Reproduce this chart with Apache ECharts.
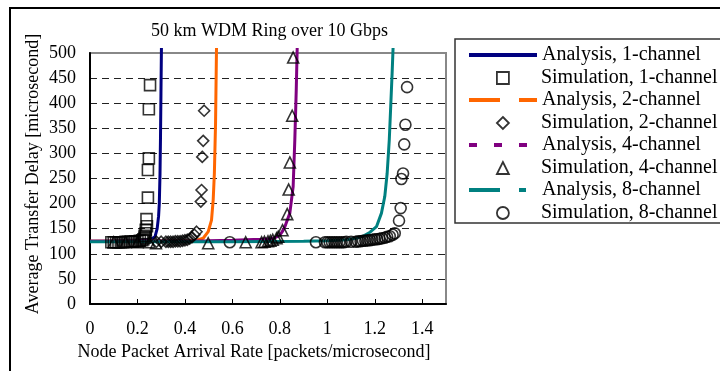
<!DOCTYPE html>
<html>
<head>
<meta charset="utf-8">
<script src="https://cdn.jsdelivr.net/npm/echarts@6/dist/echarts.min.js"></script>
<style>
  html, body { margin: 0; padding: 0; background: #fff; }
  #chart { width: 720px; height: 371px; }
</style>
</head>
<body>
<div id="chart"></div>
<script>
// analysis curves
const ana1X = [0, 0.1, 0.2, 0.24, 0.26, 0.274, 0.283, 0.289, 0.292, 0.295, 0.297, 0.299, 0.301];
const ana1Y = [125, 125, 126, 128, 130, 134, 150, 175, 200, 260, 330, 420, 510];
const ana2X = [0, 0.3, 0.42, 0.45, 0.477, 0.498, 0.512, 0.519, 0.524, 0.529, 0.533];
const ana2Y = [125, 125, 126, 127, 131, 144, 167, 207, 260, 360, 510];
const ana4X = [0, 0.5, 0.6, 0.66, 0.72, 0.76, 0.78, 0.8, 0.81, 0.821, 0.842, 0.856, 0.863, 0.869, 0.873];
const ana4Y = [125, 126, 127, 128, 129, 130, 132, 137, 144, 154, 181, 234, 327, 426, 510];
const ana8X = [0, 0.6, 0.9, 1.0, 1.08, 1.12, 1.15, 1.18, 1.207, 1.228, 1.242, 1.252, 1.261, 1.267, 1.273, 1.277];
const ana8Y = [124, 124, 125, 126, 128, 131, 135, 143, 154, 181, 214, 260, 327, 393, 460, 510];

// simulation points
const sim1X = [0.09, 0.1, 0.11, 0.12, 0.13, 0.14, 0.15, 0.16, 0.17, 0.18, 0.19, 0.2, 0.21, 0.22, 0.225, 0.23, 0.23, 0.235, 0.235, 0.24, 0.238, 0.244, 0.244, 0.248, 0.248, 0.253];
const sim1Y = [123, 123, 123, 123, 123, 123, 124, 124, 124, 124, 125, 125, 126, 127, 129, 132, 136, 141, 148, 155, 169, 212, 267, 290, 388, 436];
const sim2X = [0.28, 0.3, 0.32, 0.33, 0.34, 0.35, 0.36, 0.37, 0.38, 0.39, 0.4, 0.41, 0.42, 0.43, 0.44, 0.449, 0.467, 0.47, 0.473, 0.477, 0.481];
const sim2Y = [124, 124, 124, 124, 124, 124, 125, 125, 125, 126, 127, 128, 130, 133, 138, 144, 204, 227, 293, 325, 385];
const sim4X = [0.1, 0.15, 0.2, 0.25, 0.278, 0.498, 0.656, 0.723, 0.735, 0.75, 0.76, 0.77, 0.786, 0.793, 0.811, 0.831, 0.837, 0.842, 0.852, 0.856];
const sim4Y = [123, 123, 123, 123, 121, 121, 123, 123, 124, 125, 126, 128, 131, 134, 147, 179, 228, 282, 375, 491];
const sim8X = [0.589, 0.952, 0.99, 1.0, 1.01, 1.02, 1.03, 1.04, 1.05, 1.06, 1.07, 1.08, 1.1, 1.12, 1.13, 1.14, 1.15, 1.16, 1.17, 1.18, 1.19, 1.2, 1.21, 1.22, 1.23, 1.242, 1.252, 1.263, 1.275, 1.284, 1.302, 1.309, 1.312, 1.319, 1.324, 1.329, 1.336];
const sim8Y = [123, 123, 123, 123, 123, 123, 123, 123, 123, 123, 123, 124, 124, 124, 125, 125, 126, 126, 127, 127, 128, 129, 129, 130, 131, 132, 134, 135, 138, 141, 166, 191, 249, 260, 318, 357, 432];

const xTicks = [0, 0.2, 0.4, 0.6, 0.8, 1, 1.2, 1.4];

const zip = (xs, ys) => xs.map((x, i) => [x, ys[i]]);
const serif = 'Liberation Serif';

const lineSeries = (name, xs, ys, color) => ({
  name, type: 'line', data: zip(xs, ys), symbol: 'none', showSymbol: false,
  clip: false, silent: true, z: 2,
  lineStyle: { color, width: 3 }, itemStyle: { color }
});
const simSeries = (name, xs, ys, symbol) => ({
  name, type: 'scatter', data: zip(xs, ys), symbol, symbolSize: 11, silent: true, z: 3,
  itemStyle: { color: 'rgba(0,0,0,0)', borderColor: '#000', borderWidth: 1.6 }
});
// legend entry for an analysis curve: line only, hide the symbol
const anaLegend = (name, type) => ({
  name, lineStyle: { width: 4, type }, itemStyle: { opacity: 0 }
});

const chart = echarts.init(document.getElementById('chart'));
chart.setOption({
  animation: false,
  backgroundColor: '#fff',
  title: {
    text: '50 km WDM Ring over 10 Gbps', left: 151, top: 22, padding: 0,
    textStyle: { fontFamily: serif, fontSize: 18, fontWeight: 'normal', color: '#000' }
  },
  graphic: [
    { type: 'rect', shape: { x: 10, y: 8, width: 800, height: 500 }, style: { fill: 'none', stroke: '#000', lineWidth: 2 }, silent: true },
    { type: 'rect', shape: { x: 455, y: 39, width: 300, height: 184 }, style: { fill: 'none', stroke: '#333', lineWidth: 1.5 }, silent: true }
  ],
  legend: [
    {
      orient: 'vertical', left: 467, top: 44, padding: 0, itemWidth: 68, itemHeight: 14, itemGap: 23,
      selectedMode: false,
      textStyle: { fontFamily: serif, fontSize: 20, color: '#000', lineHeight: 22 },
      data: [
        anaLegend('Analysis, 1-channel', 'solid'),
        anaLegend('Analysis, 2-channel', [31, 19]),
        anaLegend('Analysis, 4-channel', [8, 17]),
        anaLegend('Analysis, 8-channel', [31, 19, 7, 19])
      ]
    },
    {
      orient: 'vertical', left: 496, top: 67, padding: 0, itemWidth: 12, itemHeight: 12, itemGap: 23,
      selectedMode: false,
      itemStyle: { color: 'rgba(0,0,0,0)', borderColor: '#000', borderWidth: 1.8 },
      textStyle: { fontFamily: serif, fontSize: 20, color: '#000', lineHeight: 22, padding: [0, 0, 0, 27] },
      data: ['Simulation, 1-channel', 'Simulation, 2-channel', 'Simulation, 4-channel', 'Simulation, 8-channel']
    }
  ],
  grid: { left: 90, top: 53, width: 356, height: 251, show: true, borderColor: '#888', borderWidth: 2, backgroundColor: '#fff' },
  xAxis: {
    type: 'value', min: 0, max: 1.5, interval: 0.2,
    name: 'Node Packet Arrival Rate [packets/microsecond]', nameLocation: 'middle', nameGap: 38,
    nameTextStyle: { fontFamily: serif, fontSize: 18, color: '#000', padding: [0, 28, 0, 0] },
    axisLine: { lineStyle: { color: '#000', width: 2 } },
    axisTick: { inside: true, length: 5, lineStyle: { color: '#000', width: 1 } },
    axisLabel: {
      margin: 16, fontFamily: serif, fontSize: 18, color: '#000', showMaxLabel: false,
      formatter: v => (xTicks.some(t => Math.abs(t - v) < 1e-9) ? String(Math.round(v * 10) / 10) : '')
    },
    splitLine: { show: false }
  },
  yAxis: {
    type: 'value', min: 0, max: 500, interval: 50,
    name: 'Average Transfer Delay [microsecond]', nameLocation: 'middle', nameGap: 48,
    nameTextStyle: { fontFamily: serif, fontSize: 18, color: '#000', padding: [0, 0, 0, 9] },
    axisLine: { show: true, lineStyle: { color: '#000', width: 2 } },
    axisTick: { show: false },
    axisLabel: { margin: 14, fontFamily: serif, fontSize: 18, color: '#000' },
    splitLine: { show: true, showMinLine: false, showMaxLine: false, lineStyle: { color: '#222', width: 1, type: [7, 5] } }
  },
  series: [
    lineSeries('Analysis, 1-channel', ana1X, ana1Y, '#000080'),
    lineSeries('Analysis, 2-channel', ana2X, ana2Y, '#FF6600'),
    lineSeries('Analysis, 4-channel', ana4X, ana4Y, '#800080'),
    lineSeries('Analysis, 8-channel', ana8X, ana8Y, '#008080'),
    simSeries('Simulation, 1-channel', sim1X, sim1Y, 'rect'),
    simSeries('Simulation, 2-channel', sim2X, sim2Y, 'diamond'),
    simSeries('Simulation, 4-channel', sim4X, sim4Y, 'triangle'),
    simSeries('Simulation, 8-channel', sim8X, sim8Y, 'circle')
  ]
});
</script>
</body>
</html>
